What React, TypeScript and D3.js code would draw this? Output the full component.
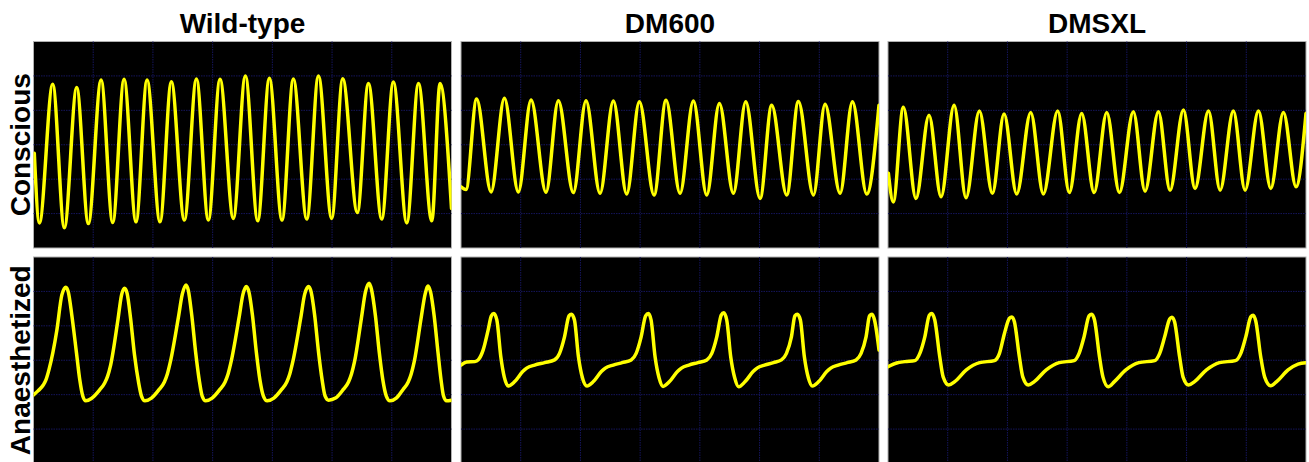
import React from 'react';
import * as d3 from 'd3';

type Pt = [number, number];

const genotypes = ['Wild-type', 'DM600', 'DMSXL'];
const states = ['Conscious', 'Anaesthetized'];

// time (ms, 60 per division), amplitude (10 per division)
const wtConscious: Pt[] = [
  [0.8, 27.5], [5.9, 7.3], [19.3, 47.6], [31.0, 5.9], [43.4, 46.6], [55.1, 7.1], [67.9, 48.8],
  [79.6, 7.4], [91.0, 49.0], [103.0, 7.6], [114.1, 48.8], [127.1, 7.6], [138.5, 48.3],
  [151.6, 8.1], [163.7, 49.1], [175.7, 8.1], [187.4, 49.0], [200.8, 8.6], [212.9, 50.0],
  [225.3, 7.9], [237.0, 49.3], [249.7, 8.1], [261.1, 49.1], [274.6, 8.4], [286.3, 50.0],
  [299.6, 8.6], [310.7, 49.2], [325.4, 10.3], [336.5, 47.8], [349.9, 8.4], [361.6, 48.2],
  [375.1, 7.3], [386.8, 47.8], [400.2, 7.9], [408.5, 47.8], [420, 11.5],
];

const dm600Conscious: Pt[] = [
  [0, 17.8], [5.0, 17.0], [15.7, 43.3], [30.2, 16.3], [43.6, 43.5], [57.6, 16.3], [70.4, 43.0],
  [85.4, 16.2], [97.8, 42.8], [112.9, 16.1], [125.6, 42.8], [139.7, 15.9], [153.1, 42.7],
  [166.5, 15.7], [179.2, 42.5], [194.0, 15.4], [206.0, 42.9], [220.1, 15.9], [233.5, 42.7],
  [246.9, 15.4], [259.6, 42.0], [273.7, 15.9], [286.1, 42.5], [300.5, 14.4], [312.2, 41.5],
  [327.3, 15.4], [339.0, 42.6], [354.1, 15.4], [365.8, 41.8], [380.9, 15.9], [393.3, 42.5],
  [407.7, 15.7], [420, 41.5],
];

const dmsxlConscious: Pt[] = [
  [0.4, 21.7], [5.3, 13.4], [15.4, 40.9], [28.1, 14.4], [41.2, 38.6], [53.3, 14.9], [66.4, 41.5],
  [78.4, 14.6], [91.8, 39.8], [104.9, 15.9], [116.6, 38.9], [129.3, 15.7], [143.4, 39.4],
  [156.1, 15.7], [170.5, 39.8], [182.2, 16.1], [194.6, 39.1], [207.1, 16.1], [219.8, 39.4],
  [232.5, 16.1], [246.5, 39.6], [258.3, 16.5], [271.7, 39.6], [283.4, 16.8], [296.8, 40.1],
  [308.5, 17.3], [322.0, 39.8], [333.7, 16.8], [347.0, 39.8], [358.8, 16.8], [372.2, 39.8],
  [384.6, 17.3], [397.3, 39.4], [410.0, 17.8], [420, 39.1],
];

const wtAnaesth: Pt[] = [
  [0, 19.9], [4.5, 21.1], [9.8, 22.8], [12.5, 24.3], [15.5, 27.2], [23.5, 38.8], [28.5, 49.0],
  [32.5, 51.2], [35, 49.8], [38.5, 43.1], [43.2, 32.1], [46.5, 24.3], [49.5, 19.6], [52.5, 18.2],
  [58.2, 18.9], [66.5, 21.4], [71.5, 23.4], [74.5, 25.4], [77.5, 28.6], [84.8, 41.7], [88.5, 49.0],
  [91.5, 50.9], [94, 49.5], [97.5, 42.3], [101.5, 31.5], [105.5, 23.7], [108.5, 19.6], [112, 18.2],
  [118.5, 19.0], [126.5, 21.6], [131.5, 23.7], [134.5, 26.0], [137.5, 29.5], [145.5, 42.3], [149.5, 49.2],
  [153.2, 51.9], [155.5, 50.4], [159, 43.1], [163, 32.1], [166.5, 24.3], [169.5, 19.6], [173, 18.2],
  [179.5, 19.0], [187.5, 21.6], [192.5, 23.7], [195.5, 26.0], [198.5, 29.5], [206.5, 42.3], [210.5, 49.2],
  [213.8, 51.4], [216.5, 49.8], [220, 43.1], [224, 32.1], [227.5, 24.3], [231, 19.6], [234.8, 18.2],
  [241.5, 19.0], [249.5, 21.6], [254.5, 23.7], [257.5, 26.0], [260.5, 29.5], [268.5, 42.3], [272.5, 49.2],
  [276.5, 51.4], [279, 49.8], [282.5, 43.1], [286.5, 32.1], [290, 24.3], [293, 19.6], [296.5, 18.4],
  [303.5, 19.0], [311.5, 21.6], [316.5, 23.7], [319.5, 26.0], [322.5, 29.5], [329.5, 42.3], [333.5, 49.8],
  [337.2, 52.4], [339.5, 50.7], [343.5, 43.1], [347.5, 32.1], [351, 24.3], [354.5, 19.6], [358.2, 18.2],
  [364.5, 19.0], [371.5, 21.6], [376.5, 23.7], [379.5, 26.0], [382.5, 29.5], [389.5, 42.3], [393.5, 49.2],
  [396.5, 51.6], [399, 49.8], [402.5, 43.1], [406.5, 32.1], [409.5, 24.3], [412, 19.6], [415, 18.2],
  [420, 18.4],
];

const dm600Anaesth: Pt[] = [
  [0, 28.6], [5.7, 29.5], [14, 29.6], [17.3, 30.1], [22.3, 33.0], [27.3, 38.8], [30.5, 42.9],
  [33, 43.6], [36, 41.7], [40, 31.0], [43.5, 25.1], [47.5, 22.5], [54, 23.8], [62, 26.7],
  [66, 27.7], [74, 28.6], [84, 29.3], [94, 30.1], [99, 32.0], [104, 36.8], [108.5, 42.9],
  [111, 43.4], [114, 41.7], [118, 31.0], [122, 24.9], [126.5, 22.5], [133, 23.8], [141, 26.7],
  [145, 27.7], [153, 28.6], [162, 29.3], [171, 30.1], [176, 32.0], [181, 36.8], [185.5, 42.9],
  [188.3, 43.6], [191, 41.7], [195, 31.0], [199, 24.9], [203, 22.4], [209.5, 23.8], [217.5, 26.7],
  [221.5, 27.7], [229, 28.6], [238, 29.3], [247, 30.1], [252, 32.0], [257, 36.8], [261.5, 43.1],
  [264, 43.8], [267, 41.7], [271, 31.0], [275, 24.9], [279, 22.3], [285.5, 23.8], [293.5, 26.7],
  [297.5, 27.7], [305, 28.6], [314, 29.3], [322, 30.1], [327, 32.0], [332, 36.8], [335.5, 42.9],
  [338, 43.4], [341, 41.7], [345, 31.0], [349, 24.9], [353, 22.5], [359.5, 23.8], [367.5, 26.7],
  [371.5, 27.7], [379, 28.6], [388, 29.3], [397, 30.1], [402, 32.0], [407, 36.8], [410.5, 42.9],
  [413, 43.4], [415.5, 41.7], [420, 33.0],
];

const dmsxlAnaesth: Pt[] = [
  [0, 28.1], [8.7, 29.2], [17, 29.6], [27, 29.9], [32, 32.0], [37, 36.8], [41.5, 43.1],
  [44, 43.6], [47, 41.7], [52, 31.0], [55.5, 25.1], [61, 22.8], [67, 23.8], [78.7, 27.2],
  [92, 29.3], [107, 29.9], [112, 32.0], [117, 37.8], [122, 42.2], [124.5, 42.6], [127, 41.2],
  [132, 31.0], [135.5, 25.1], [141, 22.8], [147, 23.8], [159, 27.2], [172, 29.3], [187, 29.9],
  [192, 32.0], [197, 36.8], [202, 42.9], [204.7, 43.4], [207.5, 41.7], [212.5, 31.0], [216, 25.1],
  [221.3, 22.3], [227.5, 23.8], [239, 27.2], [252, 29.3], [268, 29.9], [273, 32.0], [278, 36.8],
  [283, 42.0], [285.3, 42.5], [288, 41.1], [293, 31.0], [296.5, 25.1], [302, 22.8], [308, 23.8],
  [320, 27.2], [333, 29.3], [349, 29.9], [354.5, 32.0], [359.5, 36.8], [364.5, 42.6], [367, 43.1],
  [369.5, 41.4], [374.5, 31.0], [378.5, 25.1], [384.5, 22.6], [390.5, 23.8], [402, 27.2],
  [412, 28.9], [420, 29.3],
];

const traces: Pt[][][] = [
  [wtConscious, dm600Conscious, dmsxlConscious],
  [wtAnaesth, dm600Anaesth, dmsxlAnaesth],
];

const timeDomain: [number, number] = [0, 420];
const ampDomain: [number, number] = [0, 60];
const timeTicks = d3.range(60, 420, 60);
const ampTicks = d3.range(10, 60, 10);

export default function App() {
  const W = 1309;
  const H = 462;
  const colX = [33.5, 461, 888];
  const rowY = [41.5, 257];
  const pw = 418;
  const ph = 206.5;

  const x = d3.scaleLinear().domain(timeDomain).range([0, pw]);
  const y = d3.scaleLinear().domain(ampDomain).range([ph, 0]);
  const line = d3
    .line<Pt>()
    .x((d) => x(d[0]))
    .y((d) => y(d[1]))
    .curve(d3.curveMonotoneX);

  const font = '"Liberation Sans", Arial, Helvetica, sans-serif';

  return (
    <svg
      width={W}
      height={H}
      style={{ position: 'fixed', left: 0, top: 0, display: 'block', background: '#fff' }}
    >
      <defs>
        <clipPath id="panelClip">
          <rect x={0} y={0} width={pw} height={ph} />
        </clipPath>
      </defs>
      {genotypes.map((g, ci) => (
        <text
          key={g}
          x={colX[ci] + pw / 2}
          y={33}
          textAnchor="middle"
          fontFamily={font}
          fontWeight="bold"
          fontSize={28}
          fill="#000"
        >
          {g}
        </text>
      ))}
      {states.map((s, ri) => (
        <text
          key={s}
          transform={`translate(30,${rowY[ri] + ph / 2}) rotate(-90)`}
          textAnchor="middle"
          fontFamily={font}
          fontWeight="bold"
          fontSize={28}
          fill="#000"
        >
          {s}
        </text>
      ))}
      {traces.map((row, ri) =>
        row.map((data, ci) => (
          <g key={`${ri}-${ci}`} transform={`translate(${colX[ci]},${rowY[ri]})`}>
            <rect x={0} y={0} width={pw} height={ph} fill="#000" stroke="#b0b0b0" strokeWidth={1} />
            {timeTicks.map((t) => (
              <line
                key={`v${t}`}
                x1={x(t)}
                x2={x(t)}
                y1={0}
                y2={ph}
                stroke="#15155c"
                strokeWidth={1}
                strokeDasharray="1.5,1"
              />
            ))}
            {ampTicks.map((a) => (
              <line
                key={`h${a}`}
                x1={0}
                x2={pw}
                y1={y(a)}
                y2={y(a)}
                stroke="#15155c"
                strokeWidth={1}
                strokeDasharray="1.5,1"
              />
            ))}
            <path
              d={line(data) || ''}
              fill="none"
              stroke="#ffff00"
              strokeWidth={3.5}
              strokeLinejoin="round"
              strokeLinecap="round"
              clipPath="url(#panelClip)"
            />
          </g>
        ))
      )}
    </svg>
  );
}
